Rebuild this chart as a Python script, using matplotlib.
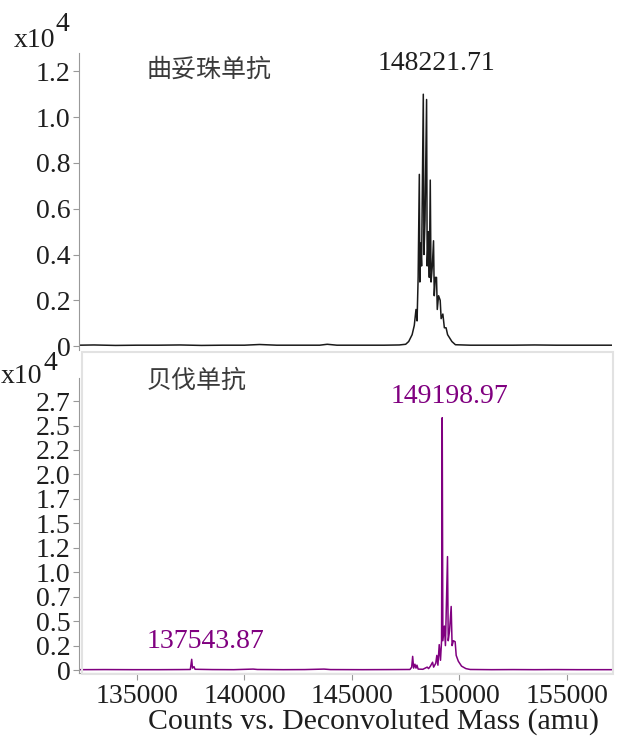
import matplotlib
matplotlib.use('Agg')
import matplotlib.pyplot as plt
from matplotlib.patches import Rectangle

plt.rcParams['font.family'] = ['Liberation Serif', 'Noto Sans CJK SC', 'DejaVu Sans']

# top spectrum (曲妥珠单抗), intensity in x10^4 counts
top_mass = [132300, 133000, 134000, 135000, 136000, 137000, 138000, 139000,
            140000, 140700, 141500, 142500, 143500, 143850, 144300, 145500,
            146500, 147200, 147500, 147640, 147800, 147900, 147980, 148030,
            148080, 148135, 148160, 148200, 148240, 148320, 148350, 148400,
            148473, 148500, 148560, 148600, 148644, 148680, 148740, 148796,
            148830, 148880, 148935, 148970, 149030, 149106, 149150, 149230,
            149300, 149380, 149450, 149550, 149650, 149815, 150500, 151500,
            152500, 153500, 154500, 155500, 157100]
top_int = [0.004, 0.005, 0.003, 0.004, 0.004, 0.005, 0.003, 0.004,
           0.004, 0.007, 0.004, 0.004, 0.004, 0.008, 0.004, 0.004,
           0.004, 0.005, 0.008, 0.020, 0.050, 0.090, 0.160, 0.110,
           0.300, 0.750, 0.280, 0.450, 0.350, 1.100, 0.400, 0.550,
           1.077, 0.350, 0.500, 0.300, 0.725, 0.280, 0.350, 0.460,
           0.220, 0.300, 0.300, 0.160, 0.220, 0.200, 0.120, 0.140,
           0.080, 0.080, 0.050, 0.035, 0.020, 0.006, 0.004, 0.004,
           0.004, 0.005, 0.004, 0.004, 0.004]

# bottom spectrum (贝伐单抗)
bot_mass = [132300, 133500, 134800, 136000, 137000, 137480, 137544, 137580,
            137650, 137700, 138500, 139500, 140400, 140600, 141800, 142800,
            143700, 144000, 145500, 146800, 147700, 147780, 147825, 147870,
            147930, 147980, 148024, 148080, 148300, 148500, 148566, 148650,
            148751, 148800, 148900, 148950, 149000, 149061, 149120, 149170,
            149200, 149230, 149300, 149350, 149446, 149480, 149540, 149617,
            149660, 149720, 149802, 149850, 149950, 150100, 150300, 150500,
            151500, 152500, 153500, 154500, 155500, 157100]
bot_int = [0.004, 0.005, 0.004, 0.004, 0.005, 0.006, 0.110, 0.020,
           0.035, 0.008, 0.005, 0.004, 0.010, 0.006, 0.004, 0.005,
           0.010, 0.005, 0.004, 0.005, 0.006, 0.030, 0.140, 0.020,
           0.060, 0.020, 0.050, 0.010, 0.008, 0.030, 0.015, 0.040,
           0.080, 0.030, 0.070, 0.150, 0.050, 0.260, 0.100, 0.300,
           2.580, 0.300, 0.450, 0.250, 1.160, 0.300, 0.400, 0.650,
           0.250, 0.300, 0.290, 0.150, 0.090, 0.040, 0.015, 0.006,
           0.004, 0.005, 0.004, 0.005, 0.004, 0.004]

top_yticks = [0, 0.2, 0.4, 0.6, 0.8, 1.0, 1.2]
top_ylabels = ['0', '0.2', '0.4', '0.6', '0.8', '1.0', '1.2']
bot_yticks = [0, 0.25, 0.5, 0.75, 1.0, 1.25, 1.5, 1.75, 2.0, 2.25, 2.5, 2.75]
bot_ylabels = ['0', '0.2', '0.5', '0.7', '1.0', '1.2', '1.5', '1.7', '2.0', '2.2', '2.5', '2.7']
xticks = [135000, 140000, 145000, 150000, 155000]

top_name = '曲妥珠单抗'
bot_name = '贝伐单抗'
top_peak = (148221.71, 1.10, '148221.71')
bot_peaks = [(149198.97, 2.58, '149198.97'), (137543.87, 0.11, '137543.87')]

purple = '#800080'
spine_gray = '#999999'
text_col = '#1e1e1e'
W, H = 628, 740


def fx(px):
    return px / W


def fy(py):
    return 1 - py / H


fig = plt.figure(figsize=(6.28, 7.4), dpi=100)

# bottom panel frame
fig.patches.append(Rectangle((fx(82), fy(674)), fx(613) - fx(82), fy(352) - fy(674),
                             transform=fig.transFigure, fill=False,
                             edgecolor='#e2e2e2', linewidth=1.5, zorder=0))

ax1 = fig.add_axes([fx(79), fy(350), fx(612) - fx(79), (350 - 53) / H])
ax2 = fig.add_axes([fx(79), fy(673), fx(612) - fx(79), (673 - 378) / H])

ax1.plot(top_mass, top_int, color='#1a1a1a', linewidth=1.1)
ax2.plot(bot_mass, bot_int, color=purple, linewidth=1.1)

for ax in (ax1, ax2):
    ax.set_xlim(132300, 157100)
    ax.patch.set_alpha(0)
    for s in ['top', 'right']:
        ax.spines[s].set_visible(False)
    ax.spines['left'].set_color(spine_gray)
    ax.spines['left'].set_linewidth(0.8)
    ax.tick_params(axis='both', direction='out', length=4, width=0.8,
                   color=spine_gray, labelsize=20, pad=2, labelcolor=text_col)

ax1.set_ylim(-0.017, 1.28)
ax1.spines['bottom'].set_visible(False)
ax1.set_xticks([])
ax1.set_yticks(top_yticks)
ax1.set_yticklabels(top_ylabels)

ax2.set_ylim(-0.03, 2.986)
ax2.spines['bottom'].set_color(spine_gray)
ax2.spines['bottom'].set_linewidth(0.8)
ax2.set_xticks(xticks)
ax2.set_xticklabels([str(x) for x in xticks])
ax2.set_yticks(bot_yticks)
ax2.set_yticklabels(bot_ylabels)
ax2.tick_params(axis='x', length=5, pad=3)

# panel names
fig.text(fx(147), fy(70), top_name, fontsize=18, color='#3a3a3a',
         family=['Noto Sans CJK SC'], fontweight='light', va='center', ha='left')
fig.text(fx(147), fy(381), bot_name, fontsize=18, color='#3a3a3a',
         family=['Noto Sans CJK SC'], fontweight='light', va='center', ha='left')

# peak labels
ax1.annotate(top_peak[2], xy=(top_peak[0], top_peak[1]), xytext=(11, 13),
             textcoords='offset points', ha='center', va='bottom',
             fontsize=20, color=text_col, annotation_clip=False)
ax2.annotate(bot_peaks[0][2], xy=(bot_peaks[0][0], bot_peaks[0][1]), xytext=(5, 6),
             textcoords='offset points', ha='center', va='bottom',
             fontsize=20, color=purple, annotation_clip=False)
ax2.annotate(bot_peaks[1][2], xy=(bot_peaks[1][0], bot_peaks[1][1]), xytext=(10, 4),
             textcoords='offset points', ha='center', va='bottom',
             fontsize=20, color=purple, annotation_clip=False)

# exponent labels
fig.text(fx(14), fy(47), 'x10', fontsize=20, color=text_col, ha='left', va='baseline')
fig.text(fx(55), fy(31), '4', fontsize=20, color=text_col, ha='left', va='baseline')
fig.text(fx(1), fy(383), 'x10', fontsize=20, color=text_col, ha='left', va='baseline')
fig.text(fx(43), fy(370), '4', fontsize=20, color=text_col, ha='left', va='baseline')

fig.text(fx(374), fy(722), 'Counts vs. Deconvoluted Mass (amu)', fontsize=21.5,
         color=text_col, ha='center', va='center')

fig.savefig('out.png', dpi=100)
